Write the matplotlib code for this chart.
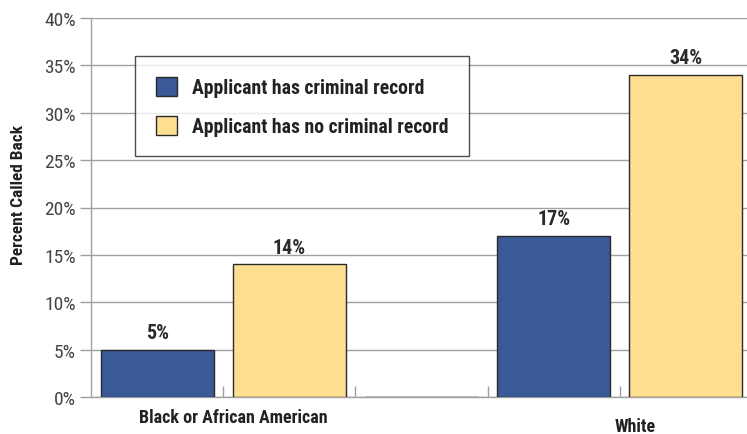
import matplotlib
matplotlib.use("Agg")
import matplotlib.pyplot as plt
from matplotlib.patches import Patch
from matplotlib.ticker import FixedLocator
from matplotlib import font_manager

names = {f.name for f in font_manager.fontManager.ttflist}
cond = None
for cand in ["Liberation Sans Narrow", "Roboto Condensed", "Open Sans Condensed",
             "Noto Sans Condensed", "DejaVu Sans Condensed"]:
    if cand in names:
        cond = cand
        break
if cond is None:
    cond = "DejaVu Sans"
plt.rcParams['font.family'] = [cond, 'DejaVu Sans']
plt.rcParams['font.stretch'] = 'condensed'

groups = ["Black or African American", "White"]
series_names = ["Applicant has criminal record", "Applicant has no criminal record"]
black_values = [5, 14]
white_values = [17, 34]
y_ticks = [0, 5, 10, 15, 20, 25, 30, 35, 40]
y_tick_labels = ["0%", "5%", "10%", "15%", "20%", "25%", "30%", "35%", "40%"]

blue = "#3A5997"
yellow = "#FEDE91"
edge = "#2a2a2a"

values = black_values + [0] + white_values
colors = [blue, yellow, "white", blue, yellow]
positions = list(range(len(values)))

W, H = 747, 435
fig = plt.figure(figsize=(W / 100, H / 100), dpi=100)
left_px, right_px, top_px, bottom_px = 91, 752, 19, 398
ax = fig.add_axes([left_px / W, (H - bottom_px) / H,
                   (right_px - left_px) / W, (bottom_px - top_px) / H])

ax.bar(positions, values, width=0.855, color=colors, edgecolor=edge,
       linewidth=1.0, zorder=3)

for p, v in zip(positions, values):
    if v > 0:
        ax.text(p, v + 0.8, f"{v}%", ha="center", va="bottom",
                fontsize=14.5, fontweight="bold", color="#2a2a2a", zorder=4)

ax.set_xlim(-0.5, len(values) - 0.5)
ax.set_ylim(0, 40)
ax.set_yticks(y_ticks)
ax.set_yticklabels(y_tick_labels, fontsize=14, color="#444444")
ax.yaxis.grid(True, color="#a0a0a0", linewidth=1.0, zorder=0)
ax.tick_params(axis="y", length=8, width=1.0, color="#a0a0a0", pad=3)

ax.xaxis.set_major_locator(FixedLocator([p + 0.5 for p in positions[:-1]]))
ax.set_xticklabels([])
ax.tick_params(axis="x", direction="in", length=8, width=1.0, color="#a0a0a0")

for s in ["top", "right"]:
    ax.spines[s].set_visible(False)
for s in ["left", "bottom"]:
    ax.spines[s].set_color("#a0a0a0")
    ax.spines[s].set_linewidth(1.0)

ax.text(0.58, -0.030, groups[0], transform=ax.get_xaxis_transform(),
        ha="center", va="top", fontsize=13, fontweight="bold", color="#222222")
ax.text(3.62, -0.054, groups[1], transform=ax.get_xaxis_transform(),
        ha="center", va="top", fontsize=13, fontweight="bold", color="#222222")

ax.set_ylabel("Percent Called Back", fontsize=12.5, fontweight="bold",
              color="#222222")
ax.yaxis.set_label_coords((26 - left_px) / (right_px - left_px),
                          (bottom_px - 195) / (bottom_px - top_px))

handles = [Patch(facecolor=blue, edgecolor=edge, linewidth=1.0),
           Patch(facecolor=yellow, edgecolor=edge, linewidth=1.0)]
leg = ax.legend(handles, series_names, loc="upper left",
                bbox_to_anchor=((135 - left_px) / (right_px - left_px),
                                (bottom_px - 57) / (bottom_px - top_px)),
                frameon=True, fancybox=False, edgecolor="#222222",
                prop={"weight": "bold", "size": 14.2},
                handlelength=1.1, handleheight=1.1, handletextpad=0.75,
                labelspacing=0.95, borderpad=1.05, borderaxespad=0)
leg.get_frame().set_linewidth(1.0)
leg.set_zorder(5)
for t in leg.get_texts():
    t.set_color("#222222")

fig.savefig("out.png", dpi=100)
